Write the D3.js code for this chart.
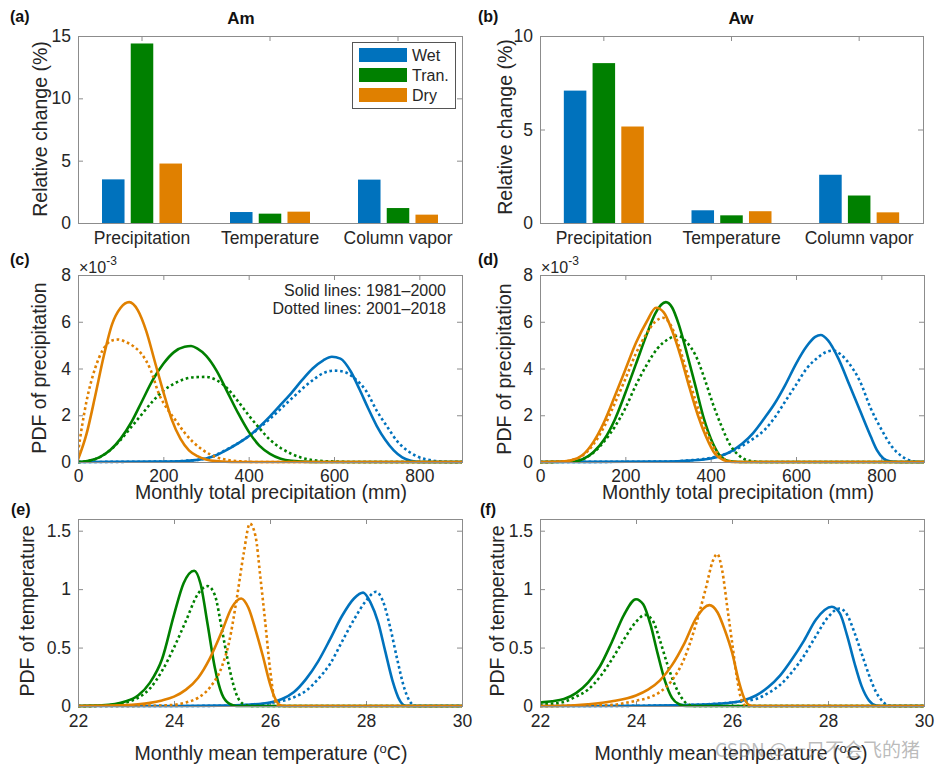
<!DOCTYPE html>
<html><head><meta charset="utf-8">
<script src="https://cdn.jsdelivr.net/npm/d3@7"></script>
<style>
body{margin:0;background:#fff;}
svg{display:block;}
</style></head><body>
<svg id="chart" width="940" height="772"></svg>
<script>
// ---------------- DATA ----------------
const barCategories = ["Precipitation", "Temperature", "Column vapor"];
const barSeries = ["Wet", "Tran.", "Dry"];
const amWet  = [3.5, 0.88, 3.48];
const amTran = [14.4, 0.75, 1.2];
const amDry  = [4.77, 0.91, 0.67];
const awWet  = [7.08, 0.68, 2.58];
const awTran = [8.55, 0.41, 1.47];
const awDry  = [5.16, 0.63, 0.57];

const barTicksAm = [0, 5, 10, 15];
const barTicksAw = [0, 5, 10];
const precipTicks = [0, 200, 400, 600, 800];
const pdfPrecipTicks = [0, 2, 4, 6, 8];
const tempTicks = [22, 24, 26, 28, 30];
const pdfTempTicks = [0, 0.5, 1, 1.5];

// PDF of precipitation (x1e-3), Am; 1 = 1981-2000 (solid), 2 = 2001-2018 (dotted)
const amPrecWet1 = [[0,0],[200,0.02],[250,0.04],[275,0.08],[300,0.15],[325,0.3],[350,0.53],[375,0.8],[400,1.1],[425,1.5],[450,1.95],[475,2.45],[500,2.95],[525,3.5],[550,4.0],[575,4.35],[595,4.5],[615,4.42],[640,3.85],[660,3.1],[680,2.3],[700,1.55],[720,0.95],[740,0.5],[760,0.2],[780,0.05],[800,0],[900,0]];
const amPrecWet2 = [[0,0],[200,0.02],[250,0.05],[300,0.15],[350,0.55],[400,1.1],[450,1.85],[500,2.7],[550,3.5],[575,3.8],[600,3.91],[625,3.85],[650,3.55],[675,3.05],[700,2.2],[725,1.5],[750,0.85],[775,0.45],[800,0.2],[825,0.08],[850,0.02],[870,0],[900,0]];
const amPrecTran1 = [[0,0],[25,0.05],[50,0.2],[75,0.5],[100,1.0],[125,1.7],[150,2.6],[175,3.5],[200,4.2],[225,4.7],[250,4.93],[265,4.96],[280,4.85],[300,4.55],[325,3.9],[350,3.0],[375,2.1],[400,1.3],[425,0.7],[450,0.35],[475,0.14],[500,0.05],[550,0],[900,0]];
const amPrecTran2 = [[0,0],[25,0.05],[50,0.2],[75,0.5],[100,0.95],[125,1.5],[150,2.05],[175,2.6],[200,3.05],[225,3.35],[250,3.55],[275,3.63],[300,3.64],[325,3.5],[350,3.15],[375,2.6],[400,2.0],[425,1.45],[450,0.95],[475,0.6],[500,0.35],[525,0.18],[550,0.08],[600,0.02],[650,0],[900,0]];
const amPrecDry1 = [[0,0.1],[20,1.2],[40,2.8],[60,4.5],[80,5.9],[100,6.6],[120,6.84],[140,6.5],[160,5.6],[180,4.3],[200,3.0],[220,1.8],[240,1.0],[260,0.5],[280,0.25],[300,0.11],[330,0.03],[360,0],[900,0]];
const amPrecDry2 = [[0,0.4],[10,1.6],[20,2.6],[40,4.0],[60,4.85],[80,5.2],[95,5.24],[110,5.15],[130,4.95],[150,4.6],[170,3.95],[190,2.9],[210,2.25],[230,1.75],[250,1.25],[270,0.85],[290,0.55],[310,0.32],[330,0.17],[350,0.09],[380,0.03],[420,0],[900,0]];

// PDF of precipitation (x1e-3), Aw
const awPrecWet1 = [[0,0],[300,0.02],[350,0.06],[400,0.15],[425,0.27],[450,0.48],[475,0.8],[500,1.25],[525,1.85],[550,2.5],[575,3.3],[600,4.2],[625,4.95],[645,5.35],[658,5.43],[675,5.2],[700,4.4],[725,3.3],[750,2.2],[775,1.1],[790,0.5],[805,0.15],[820,0.03],[840,0],[900,0]];
const awPrecWet2 = [[0,0],[300,0.02],[350,0.07],[400,0.18],[450,0.45],[475,0.7],[500,1.0],[525,1.35],[550,1.9],[575,2.6],[600,3.3],[625,4.0],[650,4.45],[670,4.7],[687,4.77],[705,4.6],[725,4.2],[750,3.45],[775,2.3],[800,1.4],[825,0.65],[850,0.22],[870,0.05],[890,0],[900,0]];
const awPrecTran1 = [[0,0],[75,0.02],[100,0.12],[125,0.42],[150,0.95],[175,1.8],[200,2.95],[225,4.2],[250,5.45],[270,6.35],[295,6.84],[310,6.6],[325,5.9],[345,4.6],[365,3.2],[385,1.8],[405,0.8],[425,0.2],[445,0.03],[470,0],[900,0]];
const awPrecTran2 = [[0,0],[75,0.03],[100,0.12],[125,0.4],[150,0.87],[175,1.5],[200,2.3],[225,3.3],[250,4.15],[275,4.85],[300,5.25],[323,5.4],[345,5.1],[365,4.55],[385,3.6],[405,2.5],[425,1.55],[445,0.75],[465,0.3],[485,0.08],[510,0.01],[530,0],[900,0]];
const awPrecDry1 = [[0,0],[50,0.02],[75,0.08],[100,0.3],[125,0.85],[150,1.7],[175,2.8],[200,3.95],[225,5.1],[250,6.0],[272,6.6],[290,6.4],[310,5.6],[330,4.5],[350,3.2],[370,2.0],[390,1.05],[410,0.35],[430,0.08],[450,0],[900,0]];
const awPrecDry2 = [[0,0],[50,0.02],[75,0.08],[100,0.28],[125,0.75],[150,1.5],[175,2.5],[200,3.55],[225,4.65],[250,5.5],[270,6.0],[288,6.17],[305,5.9],[325,5.0],[345,3.8],[365,2.6],[385,1.55],[405,0.7],[425,0.2],[445,0.04],[470,0],[900,0]];

// PDF of temperature, Am
const amTempWet1 = [[22,0],[24,0],[25,0.003],[25.5,0.01],[26,0.03],[26.25,0.06],[26.5,0.12],[26.75,0.23],[27,0.38],[27.25,0.57],[27.5,0.77],[27.75,0.92],[27.94,0.97],[28.1,0.88],[28.25,0.72],[28.4,0.47],[28.55,0.22],[28.7,0.05],[28.8,0.005],[28.9,0],[30,0]];
const amTempWet2 = [[22,0],[24,0],[25,0.002],[25.5,0.008],[26,0.025],[26.5,0.075],[26.75,0.13],[27,0.23],[27.25,0.36],[27.5,0.55],[27.75,0.74],[28,0.9],[28.21,0.977],[28.35,0.9],[28.5,0.68],[28.65,0.4],[28.8,0.15],[28.95,0.02],[29.05,0],[30,0]];
const amTempTran1 = [[22,0],[22.5,0.005],[23,0.04],[23.25,0.09],[23.5,0.2],[23.75,0.4],[24,0.78],[24.2,1.05],[24.42,1.157],[24.55,1.05],[24.7,0.7],[24.85,0.33],[25,0.1],[25.15,0.02],[25.3,0],[30,0]];
const amTempTran2 = [[22,0],[22.5,0.003],[23,0.03],[23.25,0.07],[23.5,0.15],[23.75,0.3],[24,0.5],[24.25,0.73],[24.5,0.96],[24.7,1.026],[24.85,0.95],[25,0.65],[25.15,0.33],[25.3,0.1],[25.45,0.015],[25.6,0],[30,0]];
const amTempDry1 = [[22,0],[23,0.008],[23.25,0.015],[23.5,0.027],[23.75,0.048],[24,0.08],[24.25,0.14],[24.5,0.24],[24.75,0.41],[25,0.64],[25.2,0.84],[25.4,0.92],[25.55,0.84],[25.7,0.65],[25.85,0.43],[26,0.19],[26.1,0.07],[26.2,0.01],[26.3,0],[30,0]];
const amTempDry2 = [[22,0],[23.5,0.002],[24,0.01],[24.25,0.03],[24.5,0.07],[24.75,0.16],[25,0.34],[25.15,0.55],[25.3,0.9],[25.45,1.3],[25.58,1.56],[25.7,1.45],[25.8,1.1],[25.9,0.72],[26,0.32],[26.1,0.05],[26.2,0],[30,0]];

// PDF of temperature, Aw
const awTempWet1 = [[22,0],[23,0],[24,0.002],[25,0.008],[25.5,0.015],[26,0.03],[26.25,0.05],[26.5,0.09],[26.75,0.16],[27,0.26],[27.25,0.4],[27.5,0.56],[27.75,0.74],[28.08,0.849],[28.25,0.79],[28.4,0.6],[28.55,0.37],[28.7,0.17],[28.85,0.05],[29,0.005],[29.1,0],[30,0]];
const awTempWet2 = [[22,0],[23,0],[24,0.002],[25,0.008],[25.5,0.015],[26,0.03],[26.5,0.06],[26.75,0.11],[27,0.18],[27.25,0.29],[27.5,0.43],[27.75,0.6],[28,0.76],[28.24,0.834],[28.4,0.78],[28.55,0.63],[28.7,0.45],[28.85,0.27],[29,0.12],[29.15,0.035],[29.25,0.005],[29.35,0],[30,0]];
const awTempTran1 = [[22,0.03],[22.25,0.04],[22.5,0.06],[22.75,0.11],[23,0.2],[23.25,0.34],[23.5,0.55],[23.75,0.78],[24,0.914],[24.15,0.87],[24.3,0.7],[24.45,0.45],[24.6,0.22],[24.75,0.07],[24.9,0.015],[25.05,0],[30,0]];
const awTempTran2 = [[22,0.01],[22.25,0.02],[22.5,0.035],[22.75,0.08],[23,0.14],[23.25,0.25],[23.5,0.4],[23.75,0.57],[24,0.72],[24.19,0.78],[24.35,0.73],[24.5,0.56],[24.65,0.36],[24.8,0.19],[24.95,0.07],[25.1,0.01],[25.25,0],[30,0]];
const awTempDry1 = [[22,0],[22.5,0.002],[23,0.015],[23.5,0.04],[24,0.09],[24.25,0.14],[24.5,0.22],[24.75,0.35],[25,0.53],[25.25,0.75],[25.53,0.863],[25.7,0.8],[25.85,0.65],[26,0.46],[26.15,0.2],[26.25,0.07],[26.35,0.01],[26.45,0],[30,0]];
const awTempDry2 = [[22,0],[23,0.003],[23.5,0.01],[24,0.045],[24.25,0.07],[24.5,0.12],[24.75,0.22],[25,0.4],[25.25,0.7],[25.45,1.0],[25.6,1.24],[25.69,1.3],[25.8,1.15],[25.9,0.85],[26,0.55],[26.1,0.25],[26.2,0.05],[26.3,0],[30,0]];

// ---------------- DRAWING ----------------
const FONT = '"Liberation Sans", Arial, Helvetica, sans-serif';
const INK = "#262626";
const AXC = "#8c8c8c";
const COL = {Wet: "#0072BD", "Tran.": "#008000", Dry: "#E08000"};
const svg = d3.select("#chart").attr("font-family", FONT);
svg.append("rect").attr("width", 940).attr("height", 772).attr("fill", "#fff");

function styleAxis(a, size) {
  a.attr("font-family", FONT).attr("font-size", size || 17.5);
  a.select(".domain").remove();
  a.selectAll(".tick line").attr("stroke", AXC).attr("stroke-width", 1);
  a.selectAll(".tick text").attr("fill", INK);
  return a;
}

function frame(g, xs, ys, xTickVals, yTickVals, yFmt, xPad) {
  const [x0, x1] = xs.range();
  const [yb, yt] = ys.range();
  g.append("rect").attr("x", x0).attr("y", yt).attr("width", x1 - x0).attr("height", yb - yt)
    .attr("fill", "#fff");
  const bottom = d3.axisBottom(xs).tickSize(-5).tickPadding(xPad);
  const top = d3.axisTop(xs).tickSize(-5).tickFormat("");
  if (xTickVals) { bottom.tickValues(xTickVals); top.tickValues(xTickVals); }
  styleAxis(g.append("g").attr("transform", `translate(0,${yb})`).call(bottom));
  styleAxis(g.append("g").attr("transform", `translate(0,${yt})`).call(top));
  styleAxis(g.append("g").attr("transform", `translate(${x0},0)`)
    .call(d3.axisLeft(ys).tickValues(yTickVals).tickSize(-5).tickPadding(7).tickFormat(yFmt)));
  styleAxis(g.append("g").attr("transform", `translate(${x1},0)`)
    .call(d3.axisRight(ys).tickValues(yTickVals).tickSize(-5).tickFormat("")));
}

function box(g, xs, ys) {
  const [x0, x1] = xs.range();
  const [yb, yt] = ys.range();
  g.append("rect").attr("x", x0 + 0.5).attr("y", yt + 0.5).attr("width", x1 - x0).attr("height", yb - yt)
    .attr("fill", "none").attr("stroke", AXC).attr("stroke-width", 1);
}

function ylabel(text, x, y) {
  svg.append("text").attr("transform", `translate(${x},${y}) rotate(-90)`)
    .attr("text-anchor", "middle").attr("font-size", 19.5).attr("fill", INK).text(text);
}
function panelLabel(text, x, y) {
  svg.append("text").attr("x", x).attr("y", y).attr("font-size", 16).attr("font-weight", "bold")
    .attr("fill", "#111").text(text);
}

// ---- bar panels ----
function barPanel(pos, wet, tran, dry, yMax, yTicks) {
  const g = svg.append("g");
  const x = d3.scaleBand().domain(barCategories).range([pos.x0, pos.x1]).padding(0);
  const y = d3.scaleLinear().domain([0, yMax]).range([pos.y0, pos.y1]);
  const inner = d3.scaleBand().domain(barSeries).range([-40, 40]).paddingInner(0.216).paddingOuter(0);
  frame(g, x, y, null, yTicks, d3.format("d"), 9);
  const vals = {Wet: wet, "Tran.": tran, Dry: dry};
  barSeries.forEach(s => {
    g.selectAll(null).data(barCategories).join("rect")
      .attr("x", (c) => x(c) + x.bandwidth() / 2 + inner(s))
      .attr("width", inner.bandwidth())
      .attr("y", (c, i) => y(vals[s][i]))
      .attr("height", (c, i) => y(0) - y(vals[s][i]))
      .attr("fill", COL[s]);
  });
  box(g, x, y);
  return g;
}

const ga = barPanel({x0: 78, x1: 462, y0: 223, y1: 36}, amWet, amTran, amDry, 15, barTicksAm);
const gb = barPanel({x0: 540, x1: 923, y0: 223, y1: 36}, awWet, awTran, awDry, 10, barTicksAw);

// legend in (a)
const leg = svg.append("g");
leg.append("rect").attr("x", 352.5).attr("y", 42.5).attr("width", 103).attr("height", 66)
  .attr("fill", "#fff").attr("stroke", "#555").attr("stroke-width", 1);
barSeries.forEach((s, i) => {
  leg.append("rect").attr("x", 359).attr("y", 48 + i * 20).attr("width", 48).attr("height", 14).attr("fill", COL[s]);
  leg.append("text").attr("x", 412).attr("y", 55 + i * 20).attr("dy", "0.35em")
    .attr("font-size", 16).attr("fill", INK).text(s);
});

svg.append("text").attr("x", 241).attr("y", 24).attr("text-anchor", "middle").attr("font-size", 17)
  .attr("font-weight", "bold").attr("fill", "#111").text("Am");
svg.append("text").attr("x", 741).attr("y", 24).attr("text-anchor", "middle").attr("font-size", 17)
  .attr("font-weight", "bold").attr("fill", "#111").text("Aw");

// ---- PDF panels ----
let clipId = 0;
function pdfPanel(pos, xDom, yDom, xTicks, yTicks, yFmt, xPad, curves) {
  const g = svg.append("g");
  const x = d3.scaleLinear().domain(xDom).range([pos.x0, pos.x1]);
  const y = d3.scaleLinear().domain(yDom).range([pos.y0, pos.y1]);
  frame(g, x, y, xTicks, yTicks, yFmt, xPad);
  const id = "clip" + (clipId++);
  g.append("clipPath").attr("id", id).append("rect")
    .attr("x", pos.x0).attr("y", pos.y1).attr("width", pos.x1 - pos.x0).attr("height", pos.y0 - pos.y1 + 2);
  const line = d3.line().x(d => x(d[0])).y(d => y(d[1])).curve(d3.curveMonotoneX);
  const cg = g.append("g").attr("clip-path", `url(#${id})`);
  curves.forEach(c => {
    cg.append("path").attr("d", line(c.data)).attr("fill", "none").attr("stroke", COL[c.s])
      .attr("stroke-width", 2.6).attr("stroke-linejoin", "round")
      .attr("stroke-dasharray", c.dot ? "2.6,2.8" : null)
      .attr("stroke-linecap", c.dot ? "butt" : "round");
  });
  box(g, x, y);
  return g;
}

pdfPanel({x0: 78, x1: 462, y0: 462, y1: 275}, [0, 900], [0, 8], precipTicks, pdfPrecipTicks, d3.format("d"), 8, [
  {s: "Wet", data: amPrecWet1}, {s: "Wet", data: amPrecWet2, dot: true},
  {s: "Tran.", data: amPrecTran1}, {s: "Tran.", data: amPrecTran2, dot: true},
  {s: "Dry", data: amPrecDry1}, {s: "Dry", data: amPrecDry2, dot: true}]);
pdfPanel({x0: 540, x1: 924, y0: 462, y1: 275}, [0, 900], [0, 8], precipTicks, pdfPrecipTicks, d3.format("d"), 8, [
  {s: "Wet", data: awPrecWet1}, {s: "Wet", data: awPrecWet2, dot: true},
  {s: "Tran.", data: awPrecTran1}, {s: "Tran.", data: awPrecTran2, dot: true},
  {s: "Dry", data: awPrecDry1}, {s: "Dry", data: awPrecDry2, dot: true}]);
const tfmt = d => String(d);
pdfPanel({x0: 78, x1: 462, y0: 706, y1: 519}, [22, 30], [0, 1.6], tempTicks, pdfTempTicks, tfmt, 9, [
  {s: "Wet", data: amTempWet1}, {s: "Wet", data: amTempWet2, dot: true},
  {s: "Tran.", data: amTempTran1}, {s: "Tran.", data: amTempTran2, dot: true},
  {s: "Dry", data: amTempDry1}, {s: "Dry", data: amTempDry2, dot: true}]);
pdfPanel({x0: 540, x1: 924, y0: 706, y1: 519}, [22, 30], [0, 1.6], tempTicks, pdfTempTicks, tfmt, 9, [
  {s: "Wet", data: awTempWet1}, {s: "Wet", data: awTempWet2, dot: true},
  {s: "Tran.", data: awTempTran1}, {s: "Tran.", data: awTempTran2, dot: true},
  {s: "Dry", data: awTempDry1}, {s: "Dry", data: awTempDry2, dot: true}]);

// exponent labels
[79, 541].forEach(xx => {
  const t = svg.append("text").attr("x", xx).attr("y", 273).attr("font-size", 16).attr("fill", INK);
  t.append("tspan").text("\u00d710");
  t.append("tspan").attr("dy", -8).attr("font-size", 12).text("-3");
});

// annotation
svg.append("text").attr("x", 446).attr("y", 296).attr("text-anchor", "end").attr("font-size", 16)
  .attr("fill", INK).text("Solid lines: 1981\u20132000");
svg.append("text").attr("x", 446).attr("y", 314).attr("text-anchor", "end").attr("font-size", 16)
  .attr("fill", INK).text("Dotted lines: 2001\u20132018");

// axis labels
ylabel("Relative change (%)", 47, 129);
ylabel("Relative change (%)", 512, 127);
ylabel("PDF of precipitation", 46, 368);
ylabel("PDF of precipitation", 511, 369);
ylabel("PDF of temperature", 34, 611);
ylabel("PDF of temperature", 504, 611);

function xlabel(text, x, y) {
  return svg.append("text").attr("x", x).attr("y", y).attr("text-anchor", "middle")
    .attr("font-size", 19.5).attr("fill", INK).text(text);
}
xlabel("Monthly total precipitation (mm)", 271, 499);
xlabel("Monthly total precipitation (mm)", 738, 499);
function tempLabel(x, y) {
  const t = svg.append("text").attr("x", x).attr("y", y).attr("text-anchor", "middle")
    .attr("font-size", 19.5).attr("fill", INK);
  t.append("tspan").text("Monthly mean temperature (");
  t.append("tspan").attr("dy", -7).attr("font-size", 13).text("o");
  t.append("tspan").attr("dy", 7).text("C)");
}
tempLabel(271, 760);
tempLabel(731, 760);

panelLabel("(a)", 10, 22);
panelLabel("(b)", 478, 22);
panelLabel("(c)", 10, 265);
panelLabel("(d)", 478, 265);
panelLabel("(e)", 11, 515);
panelLabel("(f)", 480, 515);

// watermark (overlaps the axis label, as in the reference)
svg.append("text").attr("x", 715).attr("y", 757).attr("font-size", 19)
  .attr("font-family", '"Noto Sans CJK SC", "Liberation Sans", sans-serif')
  .attr("fill", "rgba(130,130,130,0.55)").text("CSDN @一只不会飞的猪");
</script>
</body></html>
